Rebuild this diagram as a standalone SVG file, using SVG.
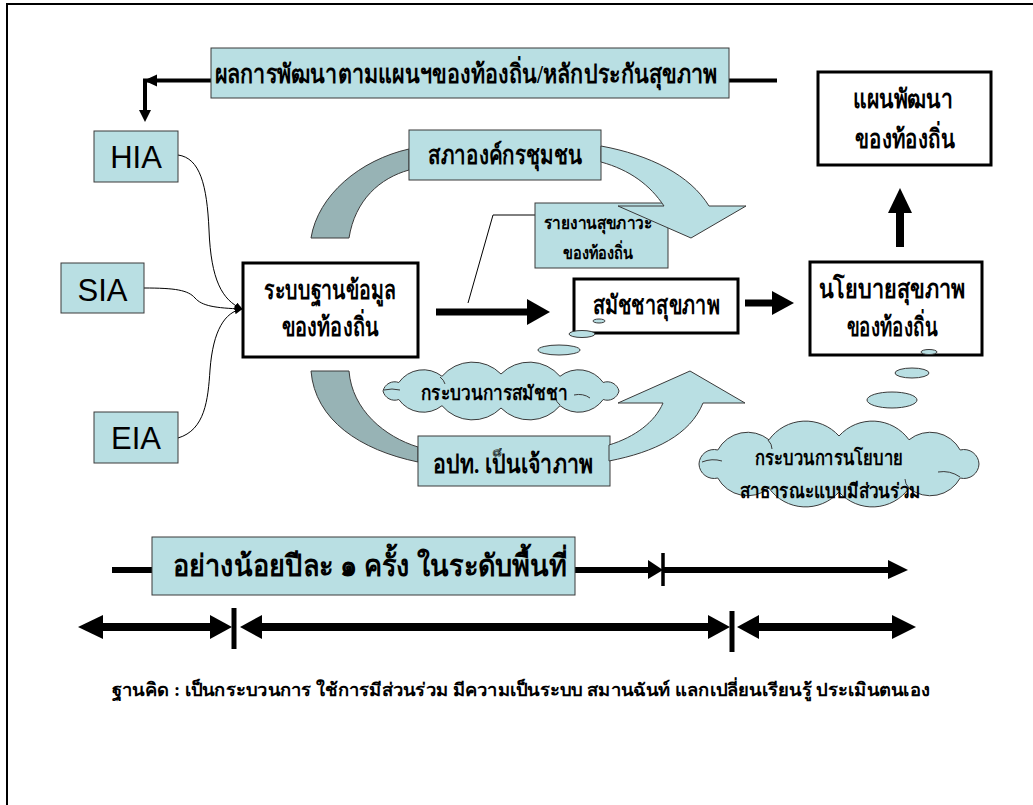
<svg xmlns="http://www.w3.org/2000/svg" width="1033" height="805" viewBox="0 0 1033 805">
<defs>
<style>
.teal{fill:#B9DFE3;stroke:#3a3a3a;stroke-width:1}
.blk{fill:#fff;stroke:#000;stroke-width:3}
.gray{fill:#97B3B5;stroke:#3a3a3a;stroke-width:1}
.tarrow{fill:#B9DFE3;stroke:#3a3a3a;stroke-width:1}
.th{font-family:"Liberation Serif","Noto Sans CJK SC",serif;font-weight:bold;fill:#000;text-anchor:middle}
.en{font-family:"Liberation Sans",Arial,sans-serif;fill:#000;text-anchor:middle;font-size:31px}
.thin{fill:none;stroke:#000;stroke-width:1}
.thick{fill:none;stroke:#000}
.hd{fill:#000}
.inner{fill:none;stroke:#3a3a3a;stroke-width:1}
</style>
<marker id="ah" viewBox="0 0 10 10" refX="9" refY="5" markerWidth="8" markerHeight="8" markerUnits="userSpaceOnUse" orient="auto">
<path d="M0,0 L10,5 L0,10 Z" fill="#000"/>
</marker>
</defs>
<rect x="0" y="0" width="1033" height="805" fill="#fff"/>
<path d="M7,805 V4 H1033" fill="none" stroke="#000" stroke-width="2"/>

<g id="shapes-behind">
<path id="gray-top" class="gray" d="M409,149 C360,160 318,195 311,238 L349,238 C355,200 380,178 409,170 Z"/>
<path id="gray-bottom" class="gray" d="M311,371 C315,420 360,450 418,462 L418,447 C385,437 352,410 349,371 Z"/>
</g>

<g id="connectors">
<path class="thin" d="M178,155 C200,158 207,185 209,230 C211,280 222,300 242,309" marker-end="url(#ah)"/>
<path class="thin" d="M144,288 C175,288 188,290 195,298 C202,306 215,308 242,309" marker-end="url(#ah)"/>
<path class="thin" d="M178,438 C205,430 208,400 210,370 C213,330 225,312 242,309" marker-end="url(#ah)"/>
<path class="thin" d="M468,303 L493,215 L535,215"/>
<path class="thick" stroke-width="4" d="M211,80.5 H145 V111"/>
<polygon class="hd" points="139,110 151,110 145,122"/>
<polygon class="hd" points="144,80.5 157,74.5 157,86.5"/>
<path class="thick" stroke-width="4" d="M729,80.5 H777"/>
<path class="thick" stroke-width="7" d="M436,312 H528"/>
<polygon class="hd" points="527,299 550,312 527,325"/>
<path class="thick" stroke-width="7" d="M745,303 H774"/>
<polygon class="hd" points="772,291 794,303 772,315"/>
<path class="thick" stroke-width="8" d="M900,247 V211"/>
<polygon class="hd" points="888,213 912,213 900,188"/>
</g>

<g id="node-hia"><rect class="teal" x="94" y="131" width="84" height="51"/><text class="en" x="136" y="168">HIA</text></g>
<g id="node-sia"><rect class="teal" x="61" y="263" width="83" height="50"/><text class="en" x="102.5" y="301">SIA</text></g>
<g id="node-eia"><rect class="teal" x="94" y="412" width="84" height="51"/><text class="en" x="136" y="449">EIA</text></g>

<g id="node-banner"><rect class="teal" x="211" y="48" width="518" height="50"/>
<text class="th" x="466" y="83" font-size="26" textLength="503" lengthAdjust="spacingAndGlyphs">ผลการพัฒนาตามแผนฯของท้องถิ่น/หลักประกันสุขภาพ</text></g>

<g id="node-database"><rect class="blk" x="243" y="263" width="175" height="94"/>
<text class="th" x="330" y="299" font-size="26" textLength="132" lengthAdjust="spacingAndGlyphs">ระบบฐานข้อมูล</text>
<text class="th" x="330" y="336" font-size="26" textLength="97" lengthAdjust="spacingAndGlyphs">ของท้องถิ่น</text></g>

<g id="node-council"><rect class="teal" x="409" y="130" width="192" height="50"/>
<text class="th" x="505" y="164" font-size="26" textLength="154" lengthAdjust="spacingAndGlyphs">สภาองค์กรชุมชน</text></g>

<g id="node-report"><rect class="teal" x="535" y="203" width="133" height="65"/>
<text class="th" x="598" y="229" font-size="18" textLength="109" lengthAdjust="spacingAndGlyphs">รายงานสุขภาวะ</text>
<text class="th" x="598" y="259" font-size="18" textLength="70" lengthAdjust="spacingAndGlyphs">ของท้องถิ่น</text></g>

<g id="arrow-top-teal"><path class="tarrow" d="M601,146 C650,155 690,175 709,206 L746,206 L691,238 L618,206 L664,206 C650,185 630,170 601,162 Z"/></g>

<g id="node-assembly"><rect class="blk" x="574" y="279" width="164" height="54"/>
<text class="th" x="656" y="314" font-size="26" textLength="127" lengthAdjust="spacingAndGlyphs">สมัชชาสุขภาพ</text></g>

<g id="node-policy"><rect class="blk" x="810" y="262" width="172" height="93"/>
<text class="th" x="892" y="298" font-size="26" textLength="147" lengthAdjust="spacingAndGlyphs">นโยบายสุขภาพ</text>
<text class="th" x="892" y="336" font-size="26" textLength="91" lengthAdjust="spacingAndGlyphs">ของท้องถิ่น</text></g>

<g id="node-plan"><rect class="blk" x="818" y="72" width="173" height="93"/>
<text class="th" x="903" y="108" font-size="26" textLength="100" lengthAdjust="spacingAndGlyphs">แผนพัฒนา</text>
<text class="th" x="905" y="148" font-size="26" textLength="100" lengthAdjust="spacingAndGlyphs">ของท้องถิ่น</text></g>

<g id="node-cloud-assembly">
<ellipse class="teal" cx="599" cy="321" rx="6" ry="2"/>
<ellipse class="teal" cx="582" cy="334" rx="13" ry="3.5"/>
<ellipse class="teal" cx="559" cy="350" rx="21" ry="5"/>
<path class="teal" d="M383,391 A12,12 0 0 1 398.8,382.5 A30,30 0 0 1 442,376.3 A40,40 0 0 1 501,374 A40,40 0 0 1 560,376.3 A30,30 0 0 1 603.2,382.5 A12,12 0 0 1 619,391 A12,12 0 0 1 603.2,399.5 A30,30 0 0 1 560,405.7 A40,40 0 0 1 501,408 A40,40 0 0 1 442,405.7 A30,30 0 0 1 398.8,399.5 A12,12 0 0 1 383,391 Z"/>
<path class="inner" d="M384,390 Q392,388 400,390 M590,398 Q583,393 574,395 M440,377 Q444,380 445,384 M560,405 Q556,402 556,398"/>
<text class="th" x="494" y="400" font-size="20" textLength="146" lengthAdjust="spacingAndGlyphs">กระบวนการสมัชชา</text>
</g>

<g id="node-host"><rect class="teal" x="418" y="436" width="192" height="50"/>
<text class="th" x="513" y="473" font-size="26" textLength="160" lengthAdjust="spacingAndGlyphs">อปท. เป็นเจ้าภาพ</text></g>

<g id="arrow-bottom-teal"><path class="tarrow" d="M609,445 C635,437 655,422 663,403 L618,403 L690,371 L745,403 L703,403 C690,435 655,452 609,461 Z"/></g>

<g id="node-cloud-policy">
<ellipse class="teal" cx="929" cy="352" rx="8" ry="2.5"/>
<ellipse class="teal" cx="912" cy="373" rx="17" ry="5"/>
<ellipse class="teal" cx="892" cy="400" rx="25" ry="8"/>
<path class="teal" d="M699,464 A15,15 0 0 1 717.8,450 A34,34 0 0 1 769,439.8 A45,45 0 0 1 839,436 A45,45 0 0 1 909,439.8 A34,34 0 0 1 960.2,450 A15,15 0 0 1 979,464 A15,15 0 0 1 960.2,478 A34,34 0 0 1 909,488.2 A45,45 0 0 1 839,492 A45,45 0 0 1 769,488.2 A34,34 0 0 1 717.8,478 A15,15 0 0 1 699,464 Z"/>
<path class="inner" d="M702,462 Q712,458 722,461 M960,477 Q950,470 938,472 M768,440 Q772,444 772,449 M909,488 Q905,484 905,479"/>
<text class="th" x="829" y="465" font-size="20" textLength="148" lengthAdjust="spacingAndGlyphs">กระบวนการนโยบาย</text>
<text class="th" x="830" y="498" font-size="20" textLength="180" lengthAdjust="spacingAndGlyphs">สาธารณะแบบมีส่วนร่วม</text>
</g>

<g id="timeline">
<path class="thick" stroke-width="6" d="M112,570 H152 M575,570 H650"/>
<polygon class="hd" points="648,560 663,570 648,579"/>
<path class="thick" stroke-width="3.5" d="M663,553 V586"/>
<path class="thick" stroke-width="6" d="M663,570 H890"/>
<polygon class="hd" points="888,560 908,570 888,579"/>
<path class="thick" stroke-width="8" d="M101,627 H212 M260,627 H710 M757,627 H894"/>
<polygon class="hd" points="78,627 103,615 103,639"/>
<polygon class="hd" points="210,615 232,627 210,639"/>
<path class="thick" stroke-width="5" d="M234,608 V649"/>
<polygon class="hd" points="240,627 262,615 262,639"/>
<polygon class="hd" points="708,615 730,627 708,639"/>
<path class="thick" stroke-width="5" d="M732,611 V652"/>
<polygon class="hd" points="737,627 759,615 759,639"/>
<polygon class="hd" points="892,615 916,627 892,639"/>
</g>

<g id="node-frequency"><rect class="teal" x="152" y="537" width="423" height="58"/>
<text class="th" x="370" y="576" font-size="30" textLength="395" lengthAdjust="spacingAndGlyphs">อย่างน้อยปีละ ๑ ครั้ง ในระดับพื้นที่</text></g>

<text class="th" x="521" y="696" font-size="18" textLength="818" lengthAdjust="spacingAndGlyphs">ฐานคิด : เป็นกระบวนการ ใช้การมีส่วนร่วม มีความเป็นระบบ สมานฉันท์ แลกเปลี่ยนเรียนรู้ ประเมินตนเอง</text>
</svg>
